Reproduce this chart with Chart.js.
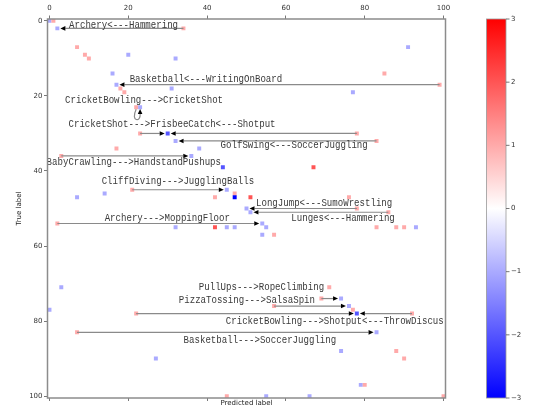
<!DOCTYPE html>
<html>
<head>
<meta charset="utf-8">
<script src="https://cdn.jsdelivr.net/npm/chart.js@4/dist/chart.umd.min.js"></script>
<style>
  html, body { margin: 0; padding: 0; background: #fff; }
  canvas { display: block; }
</style>
</head>
<body>
<canvas id="cm" width="537" height="406"></canvas>
<script>
// Change in the confusion matrix: one entry per non-zero cell
const cellRows = [0, 0, 2, 2, 7, 7, 9, 9, 10, 10, 14, 14, 17, 17, 18, 18, 19, 19, 23, 23,
  30, 30, 30, 32, 32, 34, 34, 36, 36, 39, 39, 45, 45, 46, 46, 47, 47, 47, 47, 47,
  50, 50, 51, 51, 54, 54, 55, 55, 55, 55, 55, 55, 55, 55, 55, 57, 57, 71, 71, 74,
  74, 76, 76, 77, 77, 78, 78, 78, 83, 83, 88, 88, 90, 90, 97, 97, 100, 100, 100, 100];
const cellCols = [0, 1, 2, 34, 7, 91, 9, 20, 10, 32, 16, 85, 17, 99, 18, 31, 19, 77, 22, 23,
  23, 30, 78, 32, 83, 17, 38, 3, 36, 44, 67, 21, 45, 14, 47, 7, 42, 47, 51, 76,
  50, 78, 51, 86, 2, 54, 32, 42, 45, 47, 55, 83, 88, 90, 93, 54, 57, 3, 71, 69,
  74, 57, 76, 0, 77, 22, 78, 92, 7, 83, 74, 88, 27, 90, 79, 80, 45, 55, 66, 100];
const cellVals = [-1, 1, -1, 1, 1, -1, 1, -1, 1, -1, -1, 1, -1, 1, 1, -1, 1, -1, 1, -1,
  1, -2, 1, -1, 1, 1, -1, 1, -1, -2, 2, 1, -1, -1, 1, -1, 1, -3, 2, 1,
  -1, 1, -1, 1, 1, -1, -1, 2, -1, -1, -1, 1, 1, 1, -1, -1, 1, -1, 1, 1,
  -1, 1, -1, -1, 1, 1, -2, 1, 1, -1, -1, 1, -1, 1, -1, 1, 1, -1, -1, 1];

// Confusion arrows: row, source column, target column
const arrowRows = [2, 17, 23, 30, 30, 32, 36, 45, 50, 51, 54, 74, 76, 78, 78, 83];
const arrowFrom = [34, 99, 22, 23, 78, 83, 3, 21, 78, 86, 2, 69, 57, 22, 92, 7];
const arrowTo   = [2, 17, 23, 30, 30, 32, 36, 45, 50, 51, 54, 74, 76, 78, 78, 83];

// Class-pair notes, anchored in cell coordinates
const noteTexts = [
  'Archery<---Hammering',
  'Basketball<---WritingOnBoard',
  'CricketBowling--->CricketShot',
  'CricketShot--->FrisbeeCatch<---Shotput',
  'GolfSwing<---SoccerJuggling',
  'BabyCrawling--->HandstandPushups',
  'CliffDiving--->JugglingBalls',
  'LongJump<---SumoWrestling',
  'Lunges<---Hammering',
  'Archery--->MoppingFloor',
  'PullUps--->RopeClimbing',
  'PizzaTossing--->SalsaSpin',
  'CricketBowling--->Shotput<---ThrowDiscus',
  'Basketball--->SoccerJuggling'
];
const noteCols = [18.8, 39.7, 24.0, 31.1, 62.1, 21.4, 32.6, 69.7, 74.5, 29.9, 53.8, 50.1, 72.4, 53.4];
const noteRows = [1.1, 15.5, 21.25, 27.5, 33.1, 37.7, 42.7, 48.5, 52.6, 52.6, 70.9, 74.4, 80.0, 85.1];

const axisTicks = [0, 20, 40, 60, 80, 100];
const colorTicks = [-3, -2, -1, 0, 1, 2, 3];

// matplotlib "bwr" colormap over [-3, 3]
function bwr(v) {
  const t = Math.max(0, Math.min(1, (v + 3) / 6));
  let r, g, b;
  if (t < 0.5) { r = g = Math.round(510 * t); b = 255; }
  else { r = 255; g = b = Math.round(510 * (1 - t)); }
  return `rgb(${r},${g},${b})`;
}

const cells = cellRows.map((r, i) => ({ x: cellCols[i], y: r }));

function drawArrowHead(ctx, tx, ty, ang) {
  const head = 5, hw = 2.3;
  const bx = tx - Math.cos(ang) * head, by = ty - Math.sin(ang) * head;
  ctx.beginPath();
  ctx.moveTo(tx, ty);
  ctx.lineTo(bx - Math.sin(ang) * hw, by + Math.cos(ang) * hw);
  ctx.lineTo(bx + Math.sin(ang) * hw, by - Math.cos(ang) * hw);
  ctx.closePath();
  ctx.fillStyle = '#000';
  ctx.fill();
}

const overlay = {
  id: 'overlay',
  afterDatasetsDraw(chart) {
    const { ctx, chartArea: a, scales } = chart;
    const sx = scales.x, sy = scales.y, cb = scales.cb;
    ctx.save();
    ctx.lineCap = 'butt';

    // arrows
    arrowRows.forEach((row, i) => {
      const x1 = sx.getPixelForValue(arrowFrom[i]);
      const x2 = sx.getPixelForValue(arrowTo[i]);
      const yy = sy.getPixelForValue(row);
      ctx.strokeStyle = '#8a8a8a';
      ctx.lineWidth = 1.2;
      if (Math.abs(arrowTo[i] - arrowFrom[i]) <= 1) {
        // neighbouring cells: small loop underneath
        const tx = x2, ty = yy + 1.8;
        ctx.beginPath();
        ctx.moveTo(x1, yy + 2);
        ctx.bezierCurveTo(x1 - 6, yy + 15, x2 + 1, yy + 15, tx, ty + 5);
        ctx.stroke();
        drawArrowHead(ctx, tx, ty, -Math.PI / 2);
        return;
      }
      const ang = x2 > x1 ? 0 : Math.PI;
      const tx = x2 - Math.cos(ang) * 3;
      const bx = tx - Math.cos(ang) * 5;
      ctx.beginPath();
      ctx.moveTo(x1, yy);
      ctx.lineTo(bx, yy);
      ctx.stroke();
      drawArrowHead(ctx, tx, yy, ang);
    });

    // notes
    ctx.fillStyle = '#3a3a3a';
    ctx.font = '10px "Liberation Mono", monospace';
    ctx.textAlign = 'center';
    ctx.textBaseline = 'middle';
    noteTexts.forEach((t, i) => {
      ctx.save();
      ctx.translate(sx.getPixelForValue(noteCols[i]), sy.getPixelForValue(noteRows[i]));
      ctx.scale(0.908, 1);
      ctx.fillText(t, 0, 0);
      ctx.restore();
    });

    // frame
    ctx.strokeStyle = '#8c8c8c';
    ctx.lineWidth = 1.5;
    ctx.strokeRect(a.left, a.top, a.right - a.left, a.bottom - a.top);

    // colour bar
    const top = cb.getPixelForValue(3), bot = cb.getPixelForValue(-3);
    const cx0 = a.right + 41, cx1 = a.right + 60.5;
    const grad = ctx.createLinearGradient(0, top, 0, bot);
    for (let v = 3; v >= -3; v -= 0.5) grad.addColorStop((3 - v) / 6, bwr(v));
    ctx.fillStyle = grad;
    ctx.fillRect(cx0, top, cx1 - cx0, bot - top);
    ctx.strokeStyle = '#999';
    ctx.lineWidth = 0.8;
    ctx.strokeRect(cx0, top, cx1 - cx0, bot - top);
    ctx.strokeStyle = '#555';
    colorTicks.forEach(v => {
      const py = cb.getPixelForValue(v);
      ctx.beginPath();
      ctx.moveTo(cx1, py);
      ctx.lineTo(cx1 + 3.5, py);
      ctx.stroke();
    });
    ctx.restore();
  }
};

const tickFont = { family: '"DejaVu Sans", sans-serif', size: 7 };
const setTicks = list => scale => { scale.ticks = list.map(v => ({ value: v })); };

new Chart(document.getElementById('cm'), {
  type: 'scatter',
  data: {
    datasets: [{
      data: cells,
      xAxisID: 'x',
      yAxisID: 'y',
      pointStyle: 'rect',
      pointRadius: 2.8,
      pointBorderWidth: 0,
      pointBackgroundColor: c => bwr(cellVals[c.dataIndex]),
      showLine: false
    }]
  },
  options: {
    responsive: false,
    animation: false,
    events: [],
    layout: { padding: 0 },
    plugins: { legend: { display: false }, tooltip: { enabled: false } },
    scales: {
      x: {
        type: 'linear', position: 'top', min: -0.5, max: 100.5,
        afterBuildTicks: setTicks(axisTicks),
        afterFit: s => { s.height = 19; },
        grid: { drawOnChartArea: false, tickLength: 3.5, color: '#555', tickWidth: 0.8 },
        border: { display: false },
        ticks: { font: tickFont, color: '#333', padding: 3, maxRotation: 0 }
      },
      x2: {
        type: 'linear', position: 'bottom', min: -0.5, max: 100.5,
        afterBuildTicks: setTicks(axisTicks),
        afterFit: s => { s.height = 8; },
        grid: { drawOnChartArea: false, tickLength: 3, color: '#555', tickWidth: 0.8 },
        border: { display: false },
        ticks: { display: false },
        title: { display: true, text: 'Predicted label', font: tickFont, color: '#222', padding: { top: 0, bottom: -1.5 } }
      },
      y: {
        type: 'linear', position: 'left', reverse: true, min: -0.5, max: 100.5,
        afterBuildTicks: setTicks(axisTicks),
        afterFit: s => { s.width = 47.5; s.paddingTop = 0; s.paddingBottom = 0; },
        grid: { drawOnChartArea: false, tickLength: 3.5, color: '#555', tickWidth: 0.8 },
        border: { display: false },
        ticks: { font: tickFont, color: '#333', padding: 1.5 },
        title: { display: true, text: 'True label', font: tickFont, color: '#222', padding: { top: 14.5, bottom: 0 } }
      },
      cb: {
        type: 'linear', position: 'right', min: -3, max: 3,
        afterBuildTicks: setTicks(colorTicks),
        afterFit: s => { s.width = 91.5; s.paddingTop = 0; s.paddingBottom = 0; },
        grid: { display: false, drawOnChartArea: false, drawTicks: false },
        border: { display: false },
        ticks: {
          font: tickFont, color: '#333', padding: 65.5,
          callback: v => (v < 0 ? '\u2212' + Math.abs(v) : String(v))
        }
      }
    }
  },
  plugins: [overlay]
});
</script>
</body>
</html>
